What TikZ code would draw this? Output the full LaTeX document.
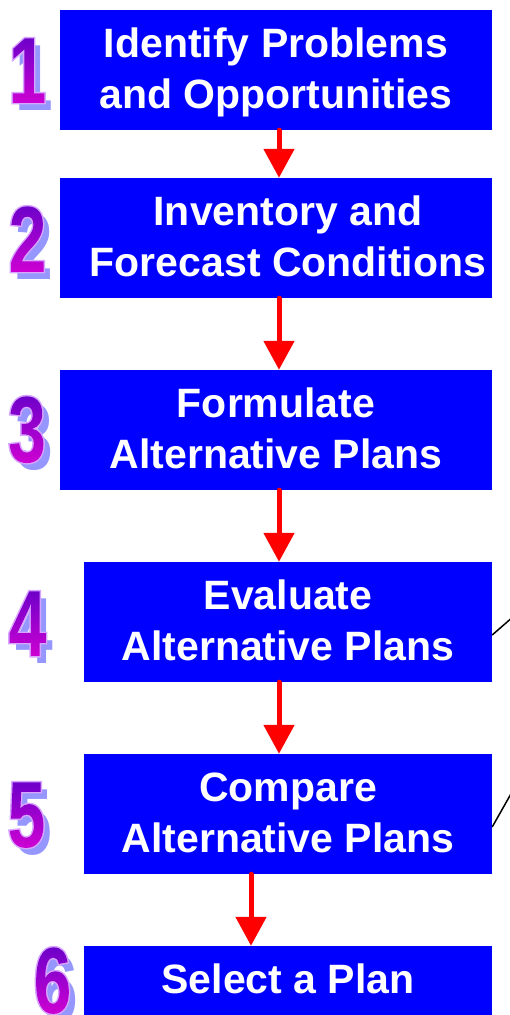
\documentclass[tikz,border=0pt]{standalone}
\usepackage{fontspec}
\setmainfont{Liberation Sans}
\newfontfamily\digfontfam[FakeStretch=0.72]{Liberation Sans}
\usetikzlibrary{arrows.meta,calc}
\definecolor{boxblue}{RGB}{0,0,255}
\definecolor{arrred}{RGB}{255,0,0}
\definecolor{digtop}{RGB}{100,0,200}
\definecolor{digbot}{RGB}{210,0,210}
\definecolor{digline}{RGB}{215,165,255}
\definecolor{digshadow}{RGB}{150,150,255}
\pgfdeclareverticalshading{digshade}{60pt}{color(0pt)=(digbot); color(76pt)=(digtop)}
\newcommand{\lstrut}{\rule[-12.8pt]{0pt}{51pt}}
\newcommand{\gradigit}[1]{%
  \special{pdf:literal direct 2 Tr 3 w}#1\special{pdf:literal direct 0 Tr}%
  \llap{\special{pdf:literal direct q 7 Tr}#1\special{pdf:literal direct 0 Tr}%
    \llap{\raisebox{-4pt}{\pgfuseshading{digshade}}}\special{pdf:literal direct Q}}}
\newcommand{\bigdigit}[4]{%
  \node (#1s) [digitnode, text=digshadow] at ({#2+7},{#3-8}) {#4};
  \node (#1) [digitnode, text=digline] at (#2,#3) {\gradigit{#4}};
}
\tikzset{
  stepbox/.style={fill=boxblue, draw=none, text=white, inner sep=0pt,
    font=\fontsize{41}{51}\selectfont\bfseries, align=center},
  digitnode/.style={anchor=base, inner sep=0pt,
    font=\digfontfam\bfseries\fontsize{94}{94}\selectfont},
  flowarrow/.style={draw=arrred, line width=5pt, line cap=round,
    -{Triangle[width=30pt,length=29pt]}},
  sideline/.style={draw=black, line width=1.5pt}
}
\begin{document}
\begin{tikzpicture}[x=1pt,y=1pt]
\useasboundingbox (0,0) rectangle (510,1015);
% boxes
\node (b1) [stepbox, minimum width=432pt, minimum height=120pt] at (276,945)
  {\lstrut Identify Problems\\\lstrut and Opportunities};
\node (b2) [stepbox, minimum width=432pt, minimum height=120pt] at (276,777)
  {\lstrut\hspace*{24pt}Inventory and\\\lstrut\hspace*{24pt}Forecast Conditions};
\node (b3) [stepbox, minimum width=432pt, minimum height=120pt] at (276,585)
  {\lstrut Formulate\\\lstrut Alternative Plans};
\node (b4) [stepbox, minimum width=408pt, minimum height=120pt] at (288,393)
  {\lstrut Evaluate\\\lstrut Alternative Plans};
\node (b5) [stepbox, minimum width=408pt, minimum height=120pt] at (288,201)
  {\lstrut Compare\\\lstrut Alternative Plans};
\node (b6) [stepbox, minimum width=408pt, minimum height=69pt] at (288,34.5)
  {\lstrut Select a Plan};
% arrows
\coordinate (ax) at (279,0);
\coordinate (bx) at (251,0);
\draw[flowarrow] (b1.south -| ax) -- (b2.north -| ax);
\draw[flowarrow] (b2.south -| ax) -- (b3.north -| ax);
\draw[flowarrow] (b3.south -| ax) -- (b4.north -| ax);
\draw[flowarrow] (b4.south -| ax) -- (b5.north -| ax);
\draw[flowarrow] (b5.south -| bx) -- (b6.north -| bx);
% side lines
\coordinate (l4end) at (514,399);
\coordinate (l5end) at (512,223);
\draw[sideline] ($(b4.east)+(0,-13)$) -- (l4end);
\draw[sideline] ($(b5.east)+(0,-13)$) -- (l5end);
% digits
\bigdigit{d1}{27.5}{912}{1}
\bigdigit{d2}{27.5}{743}{2}
\bigdigit{d3}{27}{553}{3}
\bigdigit{d4}{27.5}{359}{4}
\bigdigit{d5}{26.5}{168}{5}
\bigdigit{d6}{52.5}{2}{6}
\end{tikzpicture}
\end{document}
